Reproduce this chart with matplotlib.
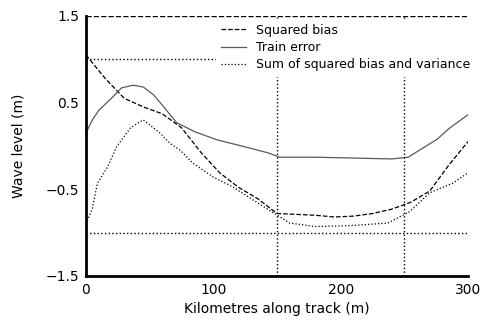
import matplotlib
matplotlib.use("Agg")
import matplotlib.pyplot as plt

# distance samples (km) and values for each curve
dist_a = [0, 15, 30, 45, 60, 75, 90, 105, 120, 135, 150, 165, 180, 195, 210, 225, 240, 255, 270, 285, 300]
bias_a = [1.05, 0.78, 0.55, 0.45, 0.37, 0.21, -0.07, -0.31, -0.48, -0.61, -0.78, -0.79, -0.80, -0.82,
          -0.81, -0.78, -0.73, -0.65, -0.52, -0.22, 0.05]

dist_b = [0, 5, 10, 20, 28, 37, 45, 53, 60, 71, 86, 103, 122, 143, 152, 180, 210, 240, 253, 265, 276, 285, 300]
var_b = [0.15, 0.30, 0.41, 0.55, 0.67, 0.70, 0.68, 0.59, 0.47, 0.27, 0.16, 0.07, 0.0, -0.08, -0.13,
         -0.13, -0.14, -0.15, -0.13, -0.02, 0.08, 0.20, 0.36]

dist_c = [0, 5, 9, 17, 24, 35, 45, 58, 66, 74, 84, 100, 115, 134, 160, 180, 207, 237, 254, 270, 288, 300]
sum_c = [-0.90, -0.72, -0.43, -0.24, -0.01, 0.21, 0.30, 0.15, 0.03, -0.05, -0.20, -0.36, -0.47, -0.65,
         -0.89, -0.93, -0.92, -0.89, -0.76, -0.54, -0.43, -0.31]

labels = ["Squared bias", "Train error", "Sum of squared bias and variance"]
ref_h = [1.0, -1.0]
ref_v = [150, 250]
yticks = [-1.5, -0.5, 0.5, 1.5]
xticks = [0, 100, 200, 300]

fig = plt.figure(figsize=(4.83, 3.25), dpi=100)
ax = fig.add_axes([0.178, 0.151, 0.791, 0.80])

ax.plot(dist_a, bias_a, color="black", lw=0.9, ls="--", label=labels[0])
ax.plot(dist_b, var_b, color="0.35", lw=0.9, ls="-", label=labels[1])
ax.plot(dist_c, sum_c, color="black", lw=0.9, ls=":", label=labels[2])

ax.axhline(1.5, color="black", lw=1, ls="--")
for h in ref_h:
    ax.axhline(h, color="black", lw=1, ls=":")
for v in ref_v:
    ax.axvline(v, color="black", lw=1, ls=":")

ax.set_xlim(0, 300)
ax.set_ylim(-1.5, 1.5)
ax.set_xticks(xticks)
ax.set_yticks(yticks)
ax.tick_params(length=0, labelsize=10, pad=5)
for s in ["top", "right"]:
    ax.spines[s].set_visible(False)
for s in ["left", "bottom"]:
    ax.spines[s].set_linewidth(2)

ax.set_xlabel("Kilometres along track (m)", fontsize=10)
ax.set_ylabel("Wave level (m)", fontsize=10, labelpad=14)

ax.legend(loc="upper right", bbox_to_anchor=(1.02, 0.99), fontsize=9, frameon=True,
          edgecolor="white", framealpha=1, labelspacing=0.35, borderaxespad=0)

fig.savefig("out.png", dpi=100)
